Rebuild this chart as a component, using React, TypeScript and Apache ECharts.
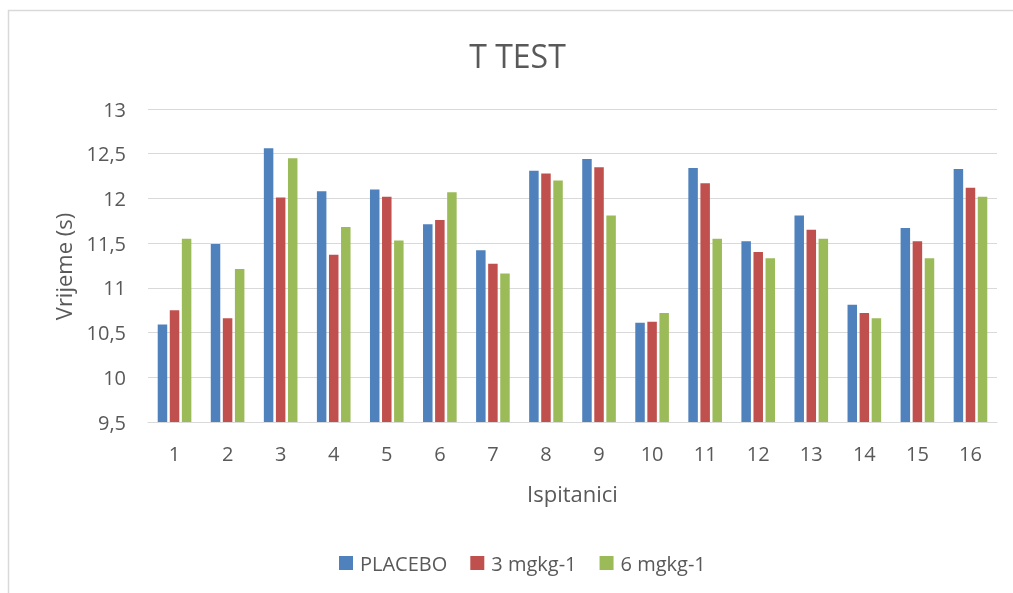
import React, { useEffect, useRef } from "react";
import * as echarts from "echarts";

const categories = ["1","2","3","4","5","6","7","8","9","10","11","12","13","14","15","16"];
const seriesNames = ["PLACEBO", "3 mgkg-1", "6 mgkg-1"];
const placebo = [10.59, 11.49, 12.56, 12.08, 12.10, 11.71, 11.42, 12.31, 12.44, 10.61, 12.34, 11.52, 11.81, 10.81, 11.67, 12.33];
const mg3 = [10.75, 10.66, 12.01, 11.37, 12.02, 11.76, 11.27, 12.28, 12.35, 10.62, 12.17, 11.40, 11.65, 10.72, 11.52, 12.12];
const mg6 = [11.55, 11.21, 12.45, 11.68, 11.53, 12.07, 11.16, 12.20, 11.81, 10.72, 11.55, 11.33, 11.55, 10.66, 11.33, 12.02];
const colors = ["#4F81BD", "#C0504D", "#9BBB59"];

const FONT = "'Open Sans', sans-serif";
const TXT = "#595959";

export default function App() {
  const ref = useRef<HTMLDivElement>(null);
  useEffect(() => {
    if (!ref.current) return;
    const chart = echarts.init(ref.current, null, { renderer: "svg" });
    const data = [placebo, mg3, mg6];
    chart.setOption({
      animation: false,
      textStyle: { fontFamily: FONT },
      graphic: [
        { type: "rect", shape: { x: 8.5, y: 10.5, width: 1100, height: 700 }, style: { fill: "none", stroke: "#D9D9D9", lineWidth: 1.5 }, silent: true },
        { type: "text", x: 517.5, y: 55, style: { text: "T TEST", fontSize: 32, fill: TXT, fontFamily: FONT, align: "center", verticalAlign: "middle" } },
        { type: "text", x: 62.5, y: 266.5, rotation: Math.PI / 2, style: { text: "Vrijeme (s)", fontSize: 22, fill: TXT, fontFamily: FONT, align: "center", verticalAlign: "middle" } },
        { type: "text", x: 572.5, y: 493, style: { text: "Ispitanici", fontSize: 22, fill: TXT, fontFamily: FONT, align: "center", verticalAlign: "middle" } },
      ],
      grid: { left: 148, right: 16, top: 109, bottom: 171, containLabel: false },
      legend: {
        data: seriesNames,
        left: 334,
        top: 548,
        icon: "rect",
        itemWidth: 14,
        itemHeight: 14,
        itemGap: 23,
        textStyle: { fontSize: 20, color: TXT, fontFamily: FONT, padding: [0, 0, 0, 2] },
      },
      xAxis: {
        type: "category",
        data: categories,
        axisTick: { show: false },
        axisLine: { lineStyle: { color: "#D9D9D9", width: 1 } },
        axisLabel: { fontSize: 20, color: TXT, margin: 21, fontFamily: FONT },
      },
      yAxis: {
        type: "value",
        min: 9.5,
        max: 13,
        interval: 0.5,
        axisLine: { show: false },
        axisTick: { show: false },
        splitLine: { lineStyle: { color: "#D9D9D9", width: 1 } },
        axisLabel: {
          fontSize: 20,
          color: TXT,
          margin: 22,
          fontFamily: FONT,
          formatter: (v: number) => String(v).replace(".", ","),
        },
      },
      series: seriesNames.map((name, i) => ({
        name,
        type: "bar",
        data: data[i],
        barWidth: 9.5,
        barGap: "27%",
        itemStyle: { color: colors[i] },
      })),
    });
    return () => chart.dispose();
  }, []);
  return <div ref={ref} style={{ position: "fixed", left: 0, top: 0, width: 1013, height: 593 }} />;
}
